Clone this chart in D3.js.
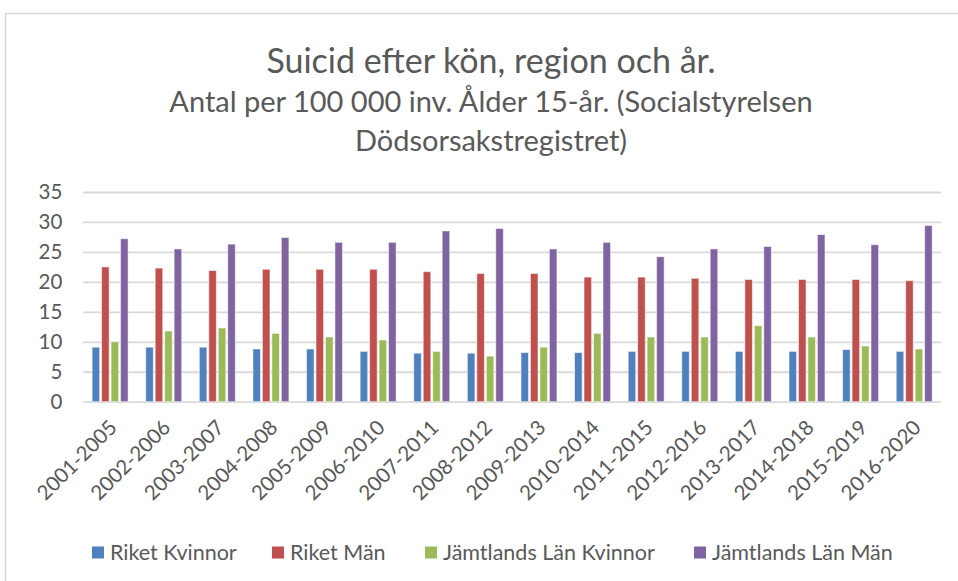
<!DOCTYPE html>
<html>
<head>
<meta charset="utf-8">
<script src="https://cdn.jsdelivr.net/npm/d3@7"></script>
<style>
  body { margin: 0; background: #fff; }
  text { font-family: Lato, "Open Sans", sans-serif; fill: #595959; }
</style>
</head>
<body>
<svg id="chart"></svg>
<script>
// data
var periods = ['2001-2005', '2002-2006', '2003-2007', '2004-2008', '2005-2009', '2006-2010',
  '2007-2011', '2008-2012', '2009-2013', '2010-2014', '2011-2015', '2012-2016',
  '2013-2017', '2014-2018', '2015-2019', '2016-2020'];
var series = ['Riket Kvinnor', 'Riket Män', 'Jämtlands Län Kvinnor', 'Jämtlands Län Män'];
var riketKvinnor = [9.1, 9.1, 9.1, 8.8, 8.8, 8.4, 8.1, 8.1, 8.2, 8.2, 8.4, 8.4, 8.4, 8.4, 8.7, 8.4];
var riketMan = [22.5, 22.3, 21.9, 22.1, 22.1, 22.1, 21.7, 21.4, 21.4, 20.8, 20.8, 20.6, 20.4, 20.4, 20.4, 20.2];
var jamtKvinnor = [10.0, 11.8, 12.3, 11.4, 10.8, 10.3, 8.4, 7.6, 9.1, 11.4, 10.8, 10.8, 12.7, 10.8, 9.3, 8.8];
var jamtMan = [27.2, 25.5, 26.3, 27.4, 26.6, 26.6, 28.5, 28.9, 25.5, 26.6, 24.2, 25.5, 25.9, 27.9, 26.2, 29.4];
var yTicks = [0, 5, 10, 15, 20, 25, 30, 35];
var colors = ['#4F81BD', '#C0504D', '#9BBB59', '#8064A2'];

var values = [riketKvinnor, riketMan, jamtKvinnor, jamtMan];
var rows = [];
periods.forEach(function (p, i) {
  series.forEach(function (s, j) {
    rows.push({period: p, series: s, value: values[j][i]});
  });
});

var vWidth = 958;
var vHeight = 581;

var svg = d3.select('#chart')
  .attr('width', vWidth)
  .attr('height', vHeight);

// chart frame
svg.append('rect')
  .attr('x', 5.5).attr('y', 13.5)
  .attr('width', 1000).attr('height', 1000)
  .style('fill', '#fff')
  .style('stroke', '#d9d9d9')
  .style('stroke-width', 1.5);

// titles
svg.append('text')
  .attr('x', 491).attr('y', 73)
  .attr('text-anchor', 'middle')
  .style('font-size', '34px')
  .text('Suicid efter kön, region och år.');
svg.append('text')
  .attr('x', 491).attr('y', 112)
  .attr('text-anchor', 'middle')
  .style('font-size', '29px')
  .text('Antal per 100 000 inv. Ålder 15-år. (Socialstyrelsen');
svg.append('text')
  .attr('x', 491).attr('y', 151)
  .attr('text-anchor', 'middle')
  .style('font-size', '29px')
  .text('Dödsorsakstregistret)');

var x = d3.scaleBand()
  .domain(periods)
  .range([83.3, 941]);

var xInner = d3.scaleBand()
  .domain(series)
  .range([0, 36])
  .paddingInner(0.2)
  .paddingOuter(0);

var y = d3.scaleLinear()
  .domain([0, 35])
  .range([401.7, 192]);

var color = d3.scaleOrdinal().domain(series).range(colors);

// gridlines + y labels
var yAxis = svg.append('g')
  .attr('transform', 'translate(83.3,0)')
  .call(d3.axisLeft(y).tickValues(yTicks).tickSize(-(941 - 83.3)).tickPadding(21));
yAxis.select('.domain').remove();
yAxis.selectAll('.tick line')
  .style('stroke', '#d9d9d9')
  .style('stroke-width', 1.8);
yAxis.selectAll('.tick text')
  .style('font-size', '20.5px')
  .style('font-family', 'Lato, sans-serif')
  .style('fill', '#595959');

// bars
var offset = (x.bandwidth() - 36) / 2;
svg.append('g').selectAll('rect')
  .data(rows)
  .enter()
  .append('rect')
  .attr('x', function (d) { return x(d.period) + offset + xInner(d.series); })
  .attr('y', function (d) { return y(d.value); })
  .attr('width', xInner.bandwidth())
  .attr('height', function (d) { return y(0) - y(d.value); })
  .style('fill', function (d) { return color(d.series); })
  .style('stroke', 'rgba(255,255,255,0.55)')
  .style('stroke-width', 1);

// x labels
var xAxis = svg.append('g')
  .attr('transform', 'translate(0,401.7)')
  .call(d3.axisBottom(x).tickSize(0).tickPadding(0));
xAxis.select('.domain').remove();
xAxis.selectAll('.tick text')
  .attr('text-anchor', 'end')
  .attr('dy', '0.35em')
  .attr('transform', 'translate(3,22) rotate(-45)')
  .style('font-size', '20.5px')
  .style('font-family', 'Lato, sans-serif')
  .style('fill', '#595959');

// legend
var legendX = [92, 272, 425, 694];
var legend = svg.append('g').selectAll('g')
  .data(series)
  .enter()
  .append('g')
  .attr('transform', function (d, i) { return 'translate(' + legendX[i] + ',552.5)'; });
legend.append('rect')
  .attr('x', 0).attr('y', -6)
  .attr('width', 12).attr('height', 12)
  .style('fill', function (d) { return color(d); });
legend.append('text')
  .attr('x', 18).attr('y', 0)
  .attr('dy', '0.35em')
  .style('font-size', '21.5px')
  .text(function (d) { return d; });
</script>
</body>
</html>
